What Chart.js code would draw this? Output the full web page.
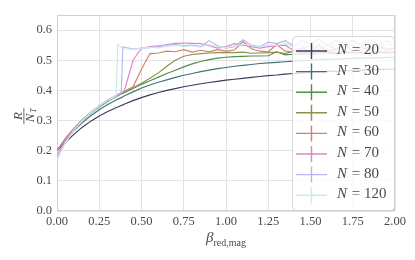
<!DOCTYPE html>
<html>
<head>
<meta charset="utf-8">
<script src="https://cdn.jsdelivr.net/npm/chart.js@4.4.1/dist/chart.umd.min.js"></script>
<style>
  html, body { margin: 0; padding: 0; background: #fff; }
  canvas { display: block; }
</style>
</head>
<body>
<canvas id="c" width="415" height="260"></canvas>
<script>
// beta_red,mag sample points (denser around the jumps of the large-N runs)
const betas = [0, 0.05, 0.1, 0.15, 0.2, 0.25, 0.3, 0.34, 0.35, 0.36, 0.38, 0.39, 0.4,
  0.45, 0.5, 0.55, 0.6, 0.65, 0.7, 0.75, 0.8, 0.85, 0.9, 0.95, 1.0,
  1.05, 1.1, 1.15, 1.2, 1.25, 1.3, 1.35, 1.4, 1.45, 1.5,
  1.55, 1.6, 1.65, 1.7, 1.75, 1.8, 1.85, 1.9, 1.95, 2.0];

const sizes = ["20", "30", "40", "50", "60", "70", "80", "120"];

const r20 = [0.200, 0.228, 0.254, 0.278, 0.298, 0.315, 0.330, 0.340, 0.343, 0.345, 0.350, 0.352, 0.355,
  0.366, 0.376, 0.385, 0.393, 0.400, 0.406, 0.412, 0.417, 0.422, 0.426, 0.430, 0.434,
  0.437, 0.440, 0.443, 0.446, 0.449, 0.451, 0.454, 0.456, 0.458, 0.460,
  0.461, 0.463, 0.464, 0.465, 0.466, 0.467, 0.468, 0.469, 0.470, 0.471];
const r30 = [0.200, 0.235, 0.266, 0.293, 0.316, 0.336, 0.353, 0.365, 0.368, 0.371, 0.376, 0.379, 0.382,
  0.395, 0.408, 0.418, 0.427, 0.435, 0.443, 0.450, 0.456, 0.462, 0.467, 0.472, 0.476,
  0.480, 0.483, 0.486, 0.489, 0.491, 0.493, 0.495, 0.497, 0.499, 0.500,
  0.502, 0.503, 0.504, 0.505, 0.506, 0.507, 0.508, 0.508, 0.509, 0.510];
const r40 = [0.200, 0.238, 0.271, 0.300, 0.324, 0.345, 0.363, 0.376, 0.379, 0.382, 0.388, 0.390, 0.393,
  0.406, 0.420, 0.432, 0.444, 0.456, 0.467, 0.478, 0.488, 0.496, 0.502, 0.507, 0.510,
  0.512, 0.513, 0.514, 0.514, 0.515, 0.528, 0.518, 0.520, 0.522, 0.520,
  0.523, 0.525, 0.522, 0.524, 0.526, 0.523, 0.525, 0.527, 0.524, 0.526];
const r50 = [0.200, 0.240, 0.273, 0.302, 0.327, 0.348, 0.366, 0.379, 0.382, 0.385, 0.391, 0.393, 0.396,
  0.409, 0.424, 0.440, 0.458, 0.480, 0.500, 0.513, 0.519, 0.522, 0.524, 0.525, 0.526,
  0.525, 0.527, 0.523, 0.524, 0.525, 0.527, 0.522, 0.530, 0.524, 0.527,
  0.523, 0.528, 0.525, 0.530, 0.524, 0.527, 0.523, 0.528, 0.525, 0.527];
const r60 = [0.200, 0.241, 0.274, 0.303, 0.328, 0.349, 0.367, 0.380, 0.383, 0.386, 0.392, 0.394, 0.397,
  0.412, 0.470, 0.522, 0.524, 0.530, 0.528, 0.535, 0.527, 0.533, 0.528, 0.535, 0.530,
  0.534, 0.562, 0.538, 0.530, 0.528, 0.552, 0.530, 0.528, 0.540, 0.530,
  0.548, 0.530, 0.535, 0.552, 0.530, 0.545, 0.532, 0.550, 0.530, 0.540];
const r70 = [0.185, 0.235, 0.272, 0.302, 0.327, 0.349, 0.367, 0.380, 0.383, 0.386, 0.392, 0.394, 0.402,
  0.500, 0.540, 0.545, 0.548, 0.552, 0.556, 0.557, 0.556, 0.555, 0.548, 0.540, 0.545,
  0.555, 0.550, 0.545, 0.540, 0.545, 0.548, 0.550, 0.532, 0.540, 0.548,
  0.535, 0.550, 0.538, 0.545, 0.550, 0.535, 0.545, 0.550, 0.538, 0.540];
const r80 = [0.172, 0.228, 0.268, 0.300, 0.326, 0.348, 0.366, 0.379, 0.382, 0.385, 0.390, 0.545, 0.543,
  0.537, 0.540, 0.542, 0.545, 0.548, 0.553, 0.548, 0.550, 0.545, 0.565, 0.548, 0.540,
  0.545, 0.568, 0.550, 0.545, 0.560, 0.555, 0.565, 0.548, 0.565, 0.555,
  0.570, 0.550, 0.565, 0.555, 0.565, 0.550, 0.568, 0.553, 0.565, 0.550];
const r120 = [0.168, 0.226, 0.267, 0.300, 0.326, 0.348, 0.366, 0.379, 0.382, 0.553, 0.542, 0.540, 0.538,
  0.536, 0.540, 0.543, 0.541, 0.546, 0.549, 0.545, 0.548, 0.543, 0.552, 0.546, 0.542,
  0.547, 0.553, 0.548, 0.544, 0.551, 0.549, 0.554, 0.546, 0.552, 0.549,
  0.555, 0.548, 0.553, 0.550, 0.554, 0.548, 0.555, 0.550, 0.553, 0.549];

const series = [r20, r30, r40, r50, r60, r70, r80, r120];
const colors = ["#3c3a5e", "#3f7478", "#4f8f50", "#8f8f4d", "#d3806d", "#da88c9", "#b9b5f3", "#c6ecef"];

const SERIF = '"Liberation Serif", "DejaVu Serif", serif';
const TEXT = "#4a4a4a";

// light frame round the plot area, drawn under the lines
const framePlugin = {
  id: "frame",
  beforeDatasetsDraw(chart) {
    const { ctx, chartArea: a } = chart;
    ctx.save();
    ctx.strokeStyle = "#d2d2d2";
    ctx.lineWidth = 1;
    ctx.strokeRect(a.left + 0.5, a.top + 0.5, a.right - a.left - 1, a.bottom - a.top - 1);
    ctx.restore();
  },
};

// errorbar-style legend (line with a vertical cap) in a translucent box
const legendPlugin = {
  id: "errLegend",
  afterDatasetsDraw(chart) {
    const { ctx } = chart;
    const x0 = 292, y0 = 36, w = 102, h = 174, r = 4;
    ctx.save();
    ctx.beginPath();
    ctx.roundRect(x0 + 0.5, y0 + 0.5, w, h, r);
    ctx.fillStyle = "rgba(255,255,255,0.8)";
    ctx.fill();
    ctx.strokeStyle = "rgba(204,204,204,0.8)";
    ctx.lineWidth = 1;
    ctx.stroke();
    chart.data.datasets.forEach((ds, i) => {
      const y = 51 + i * 20.6;
      ctx.strokeStyle = ds.borderColor;
      ctx.lineWidth = 1.4;
      ctx.beginPath();
      ctx.moveTo(296, y);
      ctx.lineTo(327, y);
      ctx.moveTo(311.5, y - 8);
      ctx.lineTo(311.5, y + 8);
      ctx.stroke();
      ctx.fillStyle = TEXT;
      ctx.textBaseline = "middle";
      ctx.textAlign = "left";
      ctx.font = "italic 15px " + SERIF;
      ctx.fillText("N", 337, y - 1);
      const nw = ctx.measureText("N").width;
      ctx.font = "15px " + SERIF;
      ctx.fillText(" = " + sizes[i], 337 + nw + 1, y - 1);
    });
    ctx.restore();
  },
};

// axis titles: beta_{red,mag} and the fraction R / N_T
const titlePlugin = {
  id: "titles",
  afterDraw(chart) {
    const { ctx, chartArea: a } = chart;
    ctx.save();
    ctx.fillStyle = TEXT;
    ctx.textBaseline = "alphabetic";
    ctx.textAlign = "left";
    const cx = (a.left + a.right) / 2;
    ctx.font = "italic 15px " + SERIF;
    const bw = ctx.measureText("\u03b2").width;
    ctx.font = "10px " + SERIF;
    const sw = ctx.measureText("red,mag").width;
    const sx = cx - (bw + sw) / 2;
    ctx.font = "italic 15px " + SERIF;
    ctx.fillText("\u03b2", sx, 242);
    ctx.font = "10px " + SERIF;
    ctx.fillText("red,mag", sx + bw, 246);

    ctx.translate(24, (a.top + a.bottom) / 2 + 3);
    ctx.rotate(-Math.PI / 2);
    ctx.textAlign = "center";
    ctx.font = "italic 13px " + SERIF;
    ctx.fillText("R", 0, -2);
    ctx.fillRect(-8, -0.5, 16, 0.8);
    ctx.font = "italic 13px " + SERIF;
    ctx.fillText("N", -2, 10);
    ctx.font = "italic 8px " + SERIF;
    ctx.fillText("T", 5.5, 12);
    ctx.restore();
  },
};

const datasets = series.map((vals, i) => ({
  label: "N = " + sizes[i],
  data: betas.map((b, j) => ({ x: b, y: vals[j] })),
  borderColor: colors[i],
  backgroundColor: colors[i],
  borderWidth: 1.15,
  pointRadius: 0,
  tension: 0,
  order: -i,
}));

new Chart(document.getElementById("c").getContext("2d"), {
  type: "line",
  data: { datasets },
  options: {
    responsive: false,
    animation: false,
    layout: { padding: { top: 15, right: 20, left: 0, bottom: 0 } },
    plugins: { legend: { display: false }, tooltip: { enabled: false } },
    scales: {
      x: {
        type: "linear",
        min: 0,
        max: 2,
        afterFit: (s) => { s.height = 49; },
        ticks: {
          stepSize: 0.25,
          callback: (v) => v.toFixed(2),
          font: { family: SERIF, size: 12.5 },
          color: TEXT,
          padding: 3,
          maxRotation: 0,
        },
        grid: { color: "#e3e3e3", drawTicks: false },
        border: { display: false },
      },
      y: {
        min: 0,
        max: 0.65,
        afterFit: (s) => { s.width = 57; },
        afterBuildTicks: (s) => {
          s.ticks = s.ticks.filter((t) => Math.abs(t.value * 10 - Math.round(t.value * 10)) < 1e-6);
        },
        ticks: {
          stepSize: 0.1,
          callback: (v) => v.toFixed(1),
          font: { family: SERIF, size: 12.5 },
          color: TEXT,
          padding: 5,
        },
        grid: { color: "#e3e3e3", drawTicks: false },
        border: { display: false },
      },
    },
  },
  plugins: [framePlugin, legendPlugin, titlePlugin],
});
</script>
</body>
</html>
